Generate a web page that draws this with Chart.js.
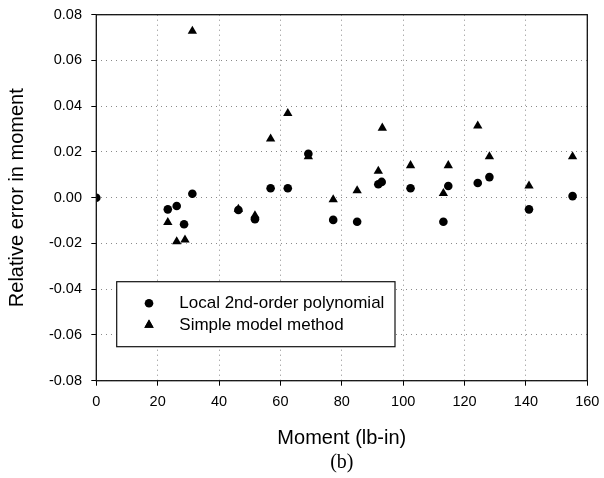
<!DOCTYPE html>
<html>
<head>
<meta charset="utf-8">
<script src="https://cdn.jsdelivr.net/npm/chart.js@4"></script>
<style>
    html, body { margin: 0; padding: 0; background: #fff; }
    #wrap { width: 604px; height: 478px; }
</style>
</head>
<body>
<div id="wrap"><canvas id="myChart" width="604" height="478"></canvas></div>
<script>
// moment values (lb-in) and relative errors
const polyMoment = [0, 23.3, 26.2, 28.6, 31.3, 46.3, 51.7, 56.8, 62.4, 69.1, 77.2, 85.0, 91.9, 93.0, 102.4, 113.1, 114.7, 124.3, 128.1, 141.0, 155.2];
const polyError = [0, -0.0051, -0.0036, -0.0116, 0.0017, -0.0054, -0.0094, 0.0041, 0.0041, 0.0192, -0.0097, -0.0105, 0.0059, 0.0069, 0.0041, -0.0105, 0.0051, 0.0064, 0.009, -0.0051, 0.0007];

const simpleMoment = [23.3, 26.2, 28.9, 31.3, 46.3, 51.7, 56.8, 62.4, 69.1, 77.2, 85.0, 91.9, 93.2, 102.4, 113.1, 114.7, 124.3, 128.1, 141.0, 155.2];
const simpleError = [-0.0108, -0.0192, -0.0184, 0.0728, -0.005, -0.0078, 0.0257, 0.0369, 0.018, -0.0008, 0.0031, 0.0116, 0.0305, 0.0141, 0.0019, 0.0141, 0.0314, 0.018, 0.0052, 0.018];

const seriesNames = ['Local 2nd-order polynomial', 'Simple model method'];

const xTicks = [0, 20, 40, 60, 80, 100, 120, 140, 160];
const yTicks = [-0.08, -0.06, -0.04, -0.02, 0, 0.02, 0.04, 0.06, 0.08];

const sans = "'Liberation Sans', Arial, sans-serif";

function toPoints(xs, ys) {
    return xs.map((x, i) => ({ x: x, y: ys[i] }));
}

// frame round the plot area
const framePlugin = {
    id: 'frame',
    afterDraw(chart) {
        const a = chart.chartArea;
        const ctx = chart.ctx;
        ctx.save();
        ctx.strokeStyle = '#111';
        ctx.lineWidth = 1.3;
        ctx.strokeRect(a.left, a.top, a.right - a.left, a.bottom - a.top);
        ctx.restore();
    }
};

// boxed legend inside the plot, lower left
const boxLegend = {
    id: 'boxLegend',
    afterDraw(chart) {
        const a = chart.chartArea;
        const ctx = chart.ctx;
        const left = a.left + 20.4;
        const top = a.top + 267;
        ctx.save();
        ctx.fillStyle = '#fff';
        ctx.fillRect(left, top, 278.3, 65);
        ctx.strokeStyle = '#111';
        ctx.lineWidth = 1.2;
        ctx.strokeRect(left, top, 278.3, 65);
        ctx.font = '17px ' + sans;
        ctx.textBaseline = 'middle';
        chart.data.datasets.forEach((ds, i) => {
            const y = top + 21.6 + i * 21.7;
            Chart.helpers.drawPoint(ctx, {
                pointStyle: ds.pointStyle,
                radius: ds.pointRadius,
                borderWidth: 0
            }, left + 32.3, y);
            ctx.fillStyle = '#000';
            ctx.fill();
            ctx.fillText(ds.label, left + 62.6, y);
        });
        ctx.restore();
    }
};

const gridOpts = {
    color: '#8a8a8a',
    lineWidth: 1,
    tickColor: '#000',
    tickLength: 5,
    tickBorderDash: []
};

new Chart(document.getElementById('myChart'), {
    type: 'scatter',
    data: {
        datasets: [{
            label: seriesNames[0],
            data: toPoints(polyMoment, polyError),
            pointStyle: 'circle',
            pointRadius: 4.3,
            backgroundColor: '#000',
            borderColor: '#000',
            borderWidth: 0
        }, {
            label: seriesNames[1],
            data: toPoints(simpleMoment, simpleError),
            pointStyle: 'triangle',
            pointRadius: 5.4,
            backgroundColor: '#000',
            borderColor: '#000',
            borderWidth: 0
        }]
    },
    options: {
        responsive: false,
        animation: false,
        layout: {
            padding: { top: 14.7, right: 16.7, bottom: 0, left: 0 }
        },
        plugins: {
            legend: { display: false },
            tooltip: { enabled: false },
            title: {
                display: true,
                position: 'bottom',
                fullSize: false,
                text: '(b)',
                color: '#000',
                font: { family: "'Liberation Serif', 'Times New Roman', serif", size: 20, weight: 'normal' },
                padding: { top: 0, bottom: 3 }
            }
        },
        scales: {
            x: {
                type: 'linear',
                min: 0,
                max: 160,
                afterBuildTicks: axis => { axis.ticks = xTicks.map(v => ({ value: v })); },
                afterFit: axis => {
                    axis.height = 70.3;
                    axis.paddingLeft = 0;
                    axis.paddingRight = 0;
                },
                ticks: {
                    color: '#000',
                    padding: 8,
                    maxRotation: 0,
                    font: { family: sans, size: 14.5 }
                },
                grid: gridOpts,
                border: { display: false, dash: [1, 4] },
                title: {
                    display: true,
                    text: 'Moment (lb-in)',
                    color: '#000',
                    font: { family: sans, size: 20 },
                    padding: { top: 0, bottom: 0.7 }
                }
            },
            y: {
                type: 'linear',
                min: -0.08,
                max: 0.08,
                afterBuildTicks: axis => { axis.ticks = yTicks.map(v => ({ value: v })); },
                afterFit: axis => {
                    axis.width = 96.3;
                    axis.paddingTop = 0;
                    axis.paddingBottom = 0;
                },
                ticks: {
                    color: '#000',
                    padding: 9.3,
                    font: { family: sans, size: 14.5 },
                    callback: v => Number(v).toFixed(2)
                },
                grid: gridOpts,
                border: { display: false, dash: [1, 4] },
                title: {
                    display: true,
                    text: 'Relative error in moment',
                    color: '#000',
                    font: { family: sans, size: 20 },
                    padding: { top: 5.5, bottom: 0 }
                }
            }
        }
    },
    plugins: [framePlugin, boxLegend]
});
</script>
</body>
</html>
